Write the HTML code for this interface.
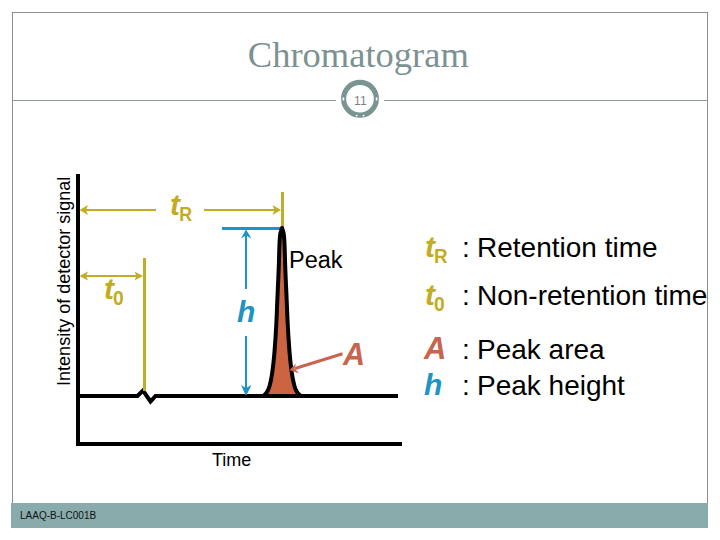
<!DOCTYPE html>
<html><head><meta charset="utf-8">
<style>
html,body{margin:0;padding:0;background:#fff;}
body{width:720px;height:540px;overflow:hidden;position:relative;}
svg{position:absolute;left:0;top:0;}
text{font-family:"Liberation Sans",sans-serif;}
text.serif{font-family:"Liberation Serif",serif;}
</style></head><body>
<svg width="720" height="540" viewBox="0 0 720 540">
  <rect x="12.5" y="12.5" width="695" height="515" fill="#fff" stroke="#8c8c8c" stroke-width="1"/>
  <line x1="12" y1="100.5" x2="336" y2="100.5" stroke="#8a9a9a" stroke-width="1"/>
  <line x1="384" y1="100.5" x2="708" y2="100.5" stroke="#8a9a9a" stroke-width="1"/>
  <circle cx="360" cy="98.75" r="16.4" fill="#fff" stroke="#7a9494" stroke-width="5.1"/>
  <rect x="342.6" y="97.5" width="1.6" height="3" fill="#fff"/>
  <rect x="375.8" y="97.5" width="1.6" height="3" fill="#fff"/>
  <rect x="355.8" y="114.8" width="1.6" height="1.6" fill="#fff"/>
  <rect x="362.8" y="114.8" width="1.6" height="1.6" fill="#fff"/>
  <text x="354.1" y="104.5" font-size="12" fill="#808080">11</text>
  <text class="serif" x="247.8" y="67" font-size="36.5" fill="#7c9292">Chromatogram</text>
  <rect x="11" y="503" width="697" height="25" fill="#89abab"/>
  <text x="20" y="519" font-size="10" fill="#111">LAAQ-B-LC001B</text>

  <line x1="78" y1="174" x2="78" y2="446" stroke="#000" stroke-width="4"/>
  <line x1="76" y1="444" x2="402" y2="444" stroke="#000" stroke-width="4"/>
  <polyline points="78,396 137.5,396 143,390.5 150.5,401.5 155.5,396 398,396" fill="none" stroke="#000" stroke-width="4" stroke-linejoin="miter"/>

  <line x1="82" y1="210" x2="156" y2="210" stroke="#C3AC2A" stroke-width="2"/>
  <line x1="204" y1="210" x2="276" y2="210" stroke="#C3AC2A" stroke-width="2"/>
  <polygon points="79.5,210 88,205 86,210 88,215" fill="#C3AC2A"/>
  <polygon points="281,210 272.5,205 274.5,210 272.5,215" fill="#C3AC2A"/>
  <line x1="282.5" y1="192" x2="282.5" y2="227" stroke="#C3AC2A" stroke-width="3"/>
  <text x="170" y="214.6" font-size="30" font-weight="bold" font-style="italic" fill="#C2AC22">t</text>
  <text transform="translate(179.2,220.9) scale(0.85,1)" font-size="21" font-weight="bold" fill="#C2AC22">R</text>

  <line x1="82" y1="276" x2="140" y2="276" stroke="#C3AC2A" stroke-width="2"/>
  <polygon points="79.5,276 88,271.5 86,276 88,280.5" fill="#C3AC2A"/>
  <polygon points="143,276 134.5,271.5 136.5,276 134.5,280.5" fill="#C3AC2A"/>
  <line x1="144.5" y1="258" x2="144.5" y2="391" stroke="#C3AC2A" stroke-width="3"/>
  <text x="104" y="298.6" font-size="30" font-weight="bold" font-style="italic" fill="#C2AC22">t</text>
  <text transform="translate(112.9,304.9) scale(0.92,1)" font-size="21" font-weight="bold" fill="#C2AC22">0</text>

  <line x1="222" y1="228.5" x2="282" y2="228.5" stroke="#1E93C4" stroke-width="3"/>
  <line x1="246" y1="234" x2="246" y2="289" stroke="#1E93C4" stroke-width="2"/>
  <line x1="246" y1="336" x2="246" y2="390" stroke="#1E93C4" stroke-width="2"/>
  <polygon points="246,229.5 241,238.5 246,235.5 251.5,238.5" fill="#1E93C4"/>
  <polygon points="246,396 241,385 246,388 251.5,385" fill="#1E93C4"/>
  <text x="237" y="321.5" font-size="30" font-weight="bold" font-style="italic" fill="#1E93C4">h</text>

  <path d="M263.50,396.00 L264.43,395.00 L265.40,394.00 L266.30,393.00 L267.00,392.00 L267.54,391.00 L268.03,390.00 L268.47,389.00 L268.87,388.00 L269.22,387.00 L269.53,386.00 L269.80,385.00 L270.05,384.00 L270.29,383.00 L270.51,382.00 L270.73,381.00 L270.94,380.00 L271.14,379.00 L271.33,378.00 L271.51,377.00 L271.68,376.00 L271.84,375.00 L272.00,374.00 L272.15,373.00 L272.30,372.00 L272.44,371.00 L272.58,370.00 L272.71,369.00 L272.84,368.00 L272.96,367.00 L273.08,366.00 L273.20,365.00 L273.32,364.00 L273.43,363.00 L273.54,362.00 L273.64,361.00 L273.74,360.00 L273.84,359.00 L273.94,358.00 L274.03,357.00 L274.12,356.00 L274.21,355.00 L274.30,354.00 L274.38,353.00 L274.47,352.00 L274.55,351.00 L274.63,350.00 L274.70,349.00 L274.78,348.00 L274.85,347.00 L274.93,346.00 L275.00,345.00 L275.07,344.00 L275.14,343.00 L275.21,342.00 L275.28,341.00 L275.35,340.00 L275.42,339.00 L275.48,338.00 L275.55,337.00 L275.61,336.00 L275.67,335.00 L275.74,334.00 L275.80,333.00 L275.86,332.00 L275.91,331.00 L275.97,330.00 L276.03,329.00 L276.09,328.00 L276.14,327.00 L276.19,326.00 L276.25,325.00 L276.30,324.00 L276.35,323.00 L276.40,322.00 L276.45,321.00 L276.50,320.00 L276.55,319.00 L276.59,318.00 L276.64,317.00 L276.68,316.00 L276.72,315.00 L276.76,314.00 L276.80,313.00 L276.84,312.00 L276.88,311.00 L276.92,310.00 L276.96,309.00 L277.00,308.00 L277.04,307.00 L277.08,306.00 L277.12,305.00 L277.16,304.00 L277.20,303.00 L277.24,302.00 L277.29,301.00 L277.33,300.00 L277.37,299.00 L277.42,298.00 L277.46,297.00 L277.50,296.00 L277.55,295.00 L277.59,294.00 L277.64,293.00 L277.69,292.00 L277.73,291.00 L277.78,290.00 L277.82,289.00 L277.87,288.00 L277.91,287.00 L277.96,286.00 L278.00,285.00 L278.05,284.00 L278.09,283.00 L278.14,282.00 L278.18,281.00 L278.23,280.00 L278.27,279.00 L278.32,278.00 L278.36,277.00 L278.40,276.00 L278.45,275.00 L278.49,274.00 L278.53,273.00 L278.57,272.00 L278.61,271.00 L278.65,270.00 L278.69,269.00 L278.73,268.00 L278.76,267.00 L278.80,266.00 L278.84,265.00 L278.87,264.00 L278.90,263.00 L278.93,262.00 L278.96,261.00 L278.99,260.00 L279.02,259.00 L279.04,258.00 L279.07,257.00 L279.10,256.00 L279.12,255.00 L279.15,254.00 L279.18,253.00 L279.21,252.00 L279.24,251.00 L279.27,250.00 L279.30,249.00 L279.34,248.00 L279.38,247.00 L279.41,246.00 L279.46,245.00 L279.50,244.00 L279.55,243.00 L279.59,242.00 L279.64,241.00 L279.70,240.00 L279.76,239.00 L279.83,238.00 L279.91,237.00 L280.00,236.00 L280.10,235.00 L280.25,234.00 L280.47,233.00 L280.73,232.00 L281.00,231.00 L281.31,230.00 L281.65,229.00 L282.00,228.00 L282.35,229.00 L282.69,230.00 L283.00,231.00 L283.27,232.00 L283.53,233.00 L283.75,234.00 L283.90,235.00 L284.00,236.00 L284.09,237.00 L284.17,238.00 L284.24,239.00 L284.30,240.00 L284.36,241.00 L284.41,242.00 L284.45,243.00 L284.50,244.00 L284.54,245.00 L284.59,246.00 L284.62,247.00 L284.66,248.00 L284.70,249.00 L284.73,250.00 L284.76,251.00 L284.79,252.00 L284.82,253.00 L284.85,254.00 L284.88,255.00 L284.90,256.00 L284.93,257.00 L284.96,258.00 L284.98,259.00 L285.01,260.00 L285.04,261.00 L285.07,262.00 L285.10,263.00 L285.13,264.00 L285.16,265.00 L285.20,266.00 L285.24,267.00 L285.27,268.00 L285.31,269.00 L285.35,270.00 L285.39,271.00 L285.43,272.00 L285.47,273.00 L285.51,274.00 L285.55,275.00 L285.60,276.00 L285.64,277.00 L285.68,278.00 L285.73,279.00 L285.77,280.00 L285.82,281.00 L285.86,282.00 L285.91,283.00 L285.95,284.00 L286.00,285.00 L286.04,286.00 L286.09,287.00 L286.13,288.00 L286.18,289.00 L286.22,290.00 L286.27,291.00 L286.31,292.00 L286.36,293.00 L286.41,294.00 L286.45,295.00 L286.50,296.00 L286.54,297.00 L286.58,298.00 L286.63,299.00 L286.67,300.00 L286.71,301.00 L286.76,302.00 L286.80,303.00 L286.84,304.00 L286.88,305.00 L286.92,306.00 L286.96,307.00 L287.00,308.00 L287.04,309.00 L287.08,310.00 L287.12,311.00 L287.16,312.00 L287.20,313.00 L287.24,314.00 L287.28,315.00 L287.32,316.00 L287.36,317.00 L287.41,318.00 L287.45,319.00 L287.50,320.00 L287.55,321.00 L287.60,322.00 L287.65,323.00 L287.70,324.00 L287.75,325.00 L287.81,326.00 L287.86,327.00 L287.91,328.00 L287.97,329.00 L288.03,330.00 L288.09,331.00 L288.14,332.00 L288.20,333.00 L288.26,334.00 L288.33,335.00 L288.39,336.00 L288.45,337.00 L288.52,338.00 L288.58,339.00 L288.65,340.00 L288.72,341.00 L288.79,342.00 L288.86,343.00 L288.93,344.00 L289.00,345.00 L289.07,346.00 L289.15,347.00 L289.22,348.00 L289.30,349.00 L289.37,350.00 L289.45,351.00 L289.53,352.00 L289.62,353.00 L289.70,354.00 L289.79,355.00 L289.88,356.00 L289.97,357.00 L290.06,358.00 L290.16,359.00 L290.26,360.00 L290.36,361.00 L290.46,362.00 L290.57,363.00 L290.68,364.00 L290.80,365.00 L290.92,366.00 L291.04,367.00 L291.16,368.00 L291.29,369.00 L291.42,370.00 L291.56,371.00 L291.70,372.00 L291.85,373.00 L292.00,374.00 L292.16,375.00 L292.32,376.00 L292.49,377.00 L292.67,378.00 L292.86,379.00 L293.06,380.00 L293.27,381.00 L293.49,382.00 L293.71,383.00 L293.95,384.00 L294.20,385.00 L294.47,386.00 L294.78,387.00 L295.13,388.00 L295.53,389.00 L295.97,390.00 L296.46,391.00 L297.00,392.00 L297.70,393.00 L298.60,394.00 L299.57,395.00 L300.50,396.00" fill="#CD6441" stroke="#000" stroke-width="4.0" stroke-linejoin="round"/>
  <polyline points="255,396 310,396" fill="none" stroke="#000" stroke-width="4"/>
  <text x="289" y="267.7" font-size="23.5" fill="#000">Peak</text>

  <line x1="342.5" y1="353.75" x2="295" y2="368.5" stroke="#C86450" stroke-width="3"/>
  <polygon points="289.5,370 296,363.5 294.5,368.5 299.5,373.5" fill="#C86450"/>
  <text x="343" y="364.6" font-size="30.5" font-weight="bold" font-style="italic" fill="#C86450">A</text>

  <text transform="translate(69.7,385.9) rotate(-90)" font-size="18" fill="#000">Intensity of detector signal</text>
  <text x="212" y="465.8" font-size="18" fill="#000">Time</text>

  <text x="425" y="256.5" font-size="30" font-weight="bold" font-style="italic" fill="#C2AC22">t</text>
  <text transform="translate(434,262.8) scale(0.94,1)" font-size="20" font-weight="bold" fill="#C2AC22">R</text>
  <text x="462" y="256.7" font-size="28" fill="#000">:</text>
  <text x="477" y="256.7" font-size="28" fill="#000">Retention time</text>

  <text x="425" y="304.6" font-size="30" font-weight="bold" font-style="italic" fill="#C2AC22">t</text>
  <text transform="translate(434.1,310.9) scale(0.92,1)" font-size="21" font-weight="bold" fill="#C2AC22">0</text>
  <text x="462" y="305.1" font-size="28" fill="#000">:</text>
  <text x="477" y="305.1" font-size="28" fill="#000">Non-retention time</text>

  <text x="424" y="359" font-size="31" font-weight="bold" font-style="italic" fill="#C86450">A</text>
  <text x="462" y="358.5" font-size="28" fill="#000">:</text>
  <text x="477" y="358.5" font-size="28" fill="#000">Peak area</text>

  <text x="424" y="395" font-size="30" font-weight="bold" font-style="italic" fill="#1E93C4">h</text>
  <text x="462" y="394.9" font-size="28" fill="#000">:</text>
  <text x="477" y="394.9" font-size="28" fill="#000">Peak height</text>
</svg>
</body></html>
